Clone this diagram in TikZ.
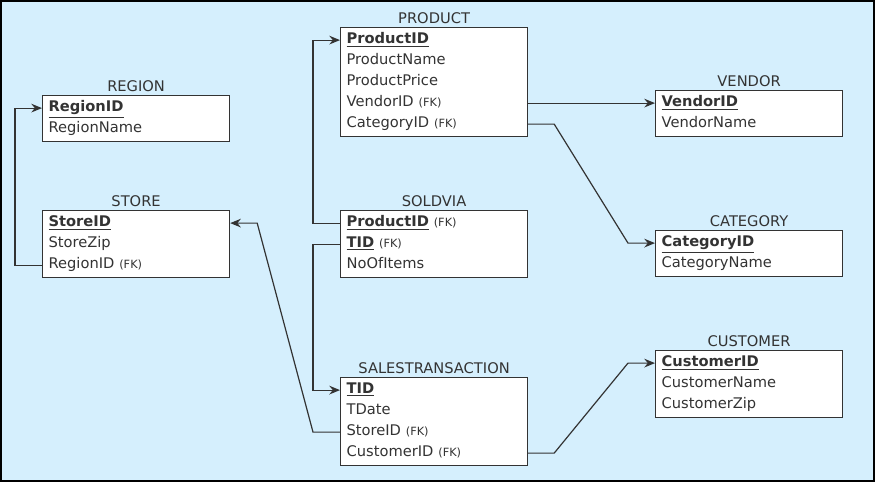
\documentclass[tikz,border=0pt]{standalone}
\usepackage{fontspec}
\setmainfont{DejaVu Sans}
\usetikzlibrary{matrix,positioning,arrows.meta}

\definecolor{bgblue}{HTML}{D5EFFD}
\definecolor{ink}{HTML}{333333}
\newcommand\fkmark{{\fontsize{8.5}{9}\selectfont (FK)}}
\newcommand\pkey[1]{\underline{\textbf{#1}}}

\tikzset{
  table/.style={matrix of nodes, draw=ink, fill=white, line width=0.9pt,
    inner xsep=0pt, inner ysep=1.5pt, row sep=0pt, anchor=north west,
    nodes={anchor=west, text width=131.25pt, inner xsep=4.5pt, inner ysep=0pt,
      minimum height=15.75pt, text height=8pt, text depth=2.5pt, align=left,
      font=\fontsize{11}{12}\selectfont, text=ink}},
  title/.style={font=\fontsize{11}{12}\selectfont, text=ink, inner sep=1pt},
  fk/.style={draw=ink, line width=0.9pt, -{Stealth[length=8pt,width=6.5pt]}}
}

\begin{document}
\begin{tikzpicture}[x=0.75pt, y=-0.75pt]
    \fill[bgblue] (0,0) rectangle (875,482);
    \useasboundingbox (0,0) rectangle (875,482);
    \draw[line width=1.5pt] (1,1) rectangle (874,481);

    \matrix[table] (region) at (42,95) {
      \pkey{RegionID} \\
      RegionName \\
    };
    \matrix[table] (store) at (42,210) {
      \pkey{StoreID} \\
      StoreZip \\
      RegionID \fkmark \\
    };
    \matrix[table] (product) at (340,27) {
      \pkey{ProductID} \\
      ProductName \\
      ProductPrice \\
      VendorID \fkmark \\
      CategoryID \fkmark \\
    };
    \matrix[table] (soldvia) at (340,210) {
      \pkey{ProductID} \fkmark \\
      \pkey{TID} \fkmark \\
      NoOfItems \\
    };
    \matrix[table] (sales) at (340,377) {
      \pkey{TID} \\
      TDate \\
      StoreID \fkmark \\
      CustomerID \fkmark \\
    };
    \matrix[table] (vendor) at (655,90) {
      \pkey{VendorID} \\
      VendorName \\
    };
    \matrix[table] (category) at (655,230) {
      \pkey{CategoryID} \\
      CategoryName \\
    };
    \matrix[table] (customer) at (655,350) {
      \pkey{CustomerID} \\
      CustomerName \\
      CustomerZip \\
    };

    \node[title, above=1pt of region] {REGION};
    \node[title, above=1pt of store] {STORE};
    \node[title, above=1pt of product] {PRODUCT};
    \node[title, above=1pt of soldvia] {SOLDVIA};
    \node[title, above=1pt of sales] {SALESTRANSACTION};
    \node[title, above=1pt of vendor] {VENDOR};
    \node[title, above=1pt of category] {CATEGORY};
    \node[title, above=1pt of customer] {CUSTOMER};

    \draw[fk] (store-3-1.west) -- ++(-27,0) |- (region-1-1.west);
    \draw[fk] (soldvia-1-1.west) -- ++(-27,0) |- (product-1-1.west);
    \draw[fk] (soldvia-2-1.west) -- ++(-27,0) |- (sales-1-1.west);
    \draw[fk] (sales-3-1.west) -- ++(-27,0) -- ([xshift=20.25pt]store-1-1.east) -- (store-1-1.east);
    \draw[fk] (product-4-1.east) -- (vendor-1-1.west);
    \draw[fk] (product-5-1.east) -- ++(26,0) -- ([xshift=-20.25pt]category-1-1.west) -- (category-1-1.west);
    \draw[fk] (sales-4-1.east) -- ++(26,0) -- ([xshift=-20.25pt]customer-1-1.west) -- (customer-1-1.west);
  \end{tikzpicture}
\end{document}
